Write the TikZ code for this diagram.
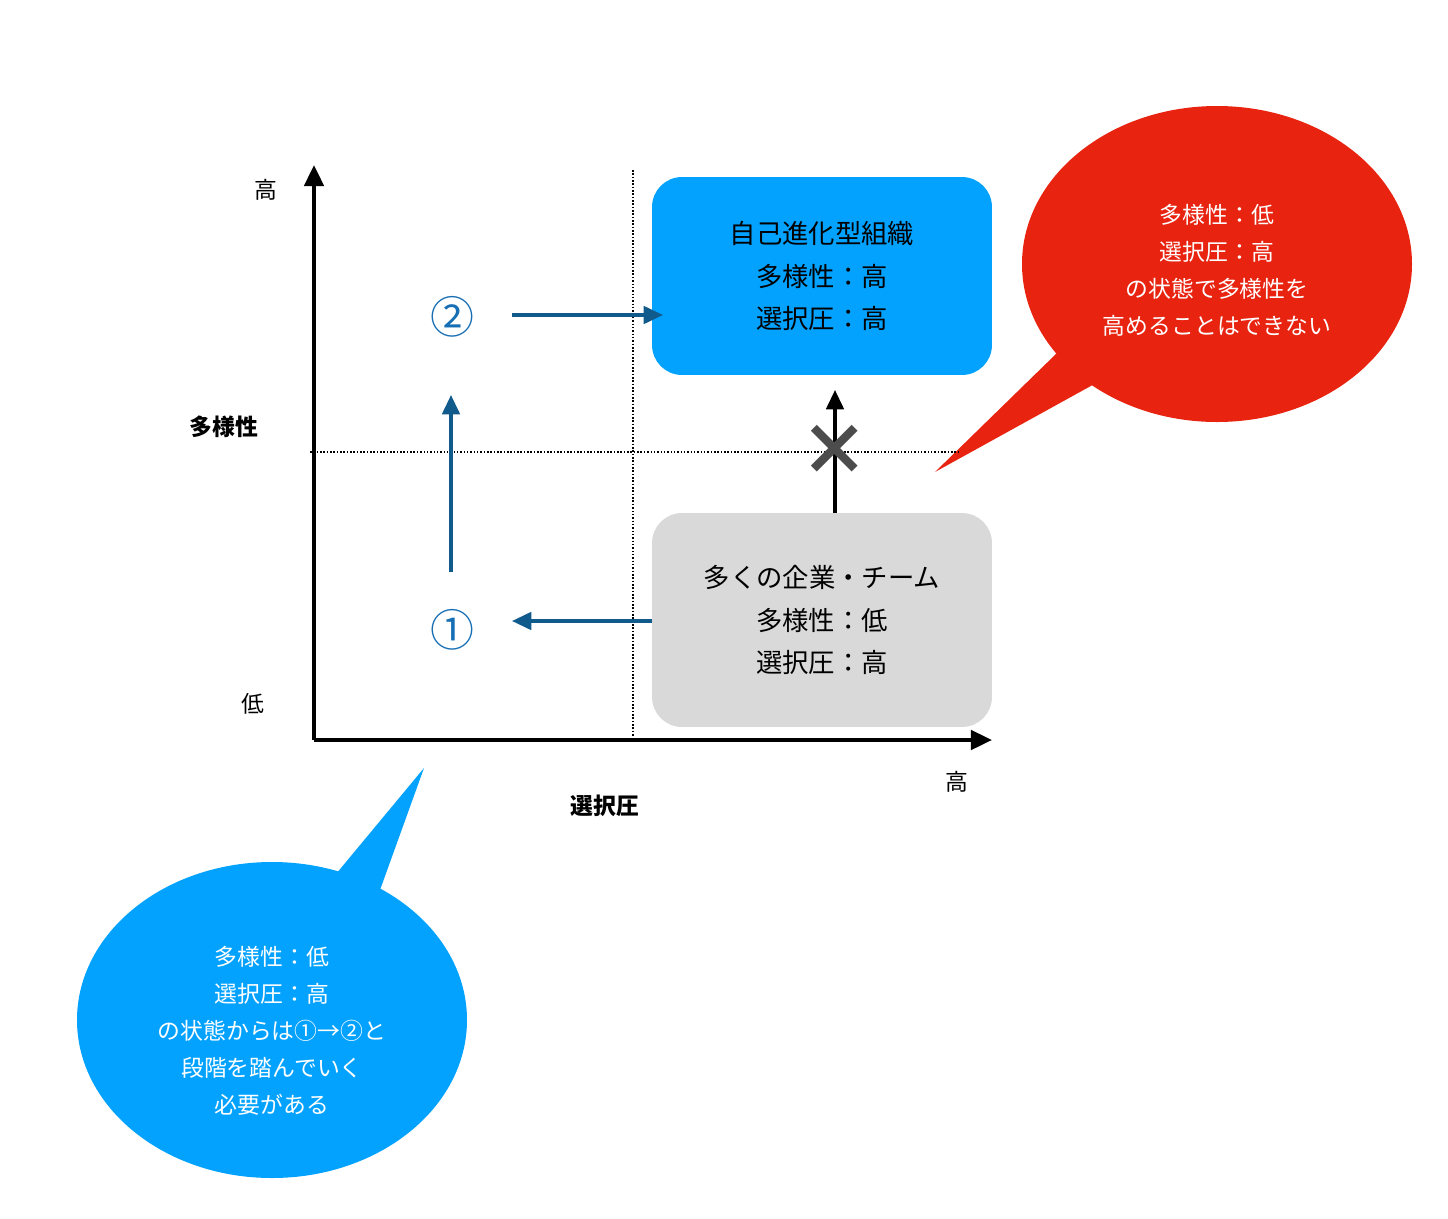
\documentclass[tikz,border=0pt]{standalone}
\usepackage{fontspec}
\setmainfont{Noto Sans CJK JP}
\usetikzlibrary{arrows.meta, positioning, shapes.geometric}
\definecolor{skyblue}{RGB}{3,162,255}
\definecolor{darkblue}{RGB}{16,90,140}
\definecolor{numblue}{RGB}{22,110,180}
\definecolor{callred}{RGB}{232,35,16}
\definecolor{boxgrey}{RGB}{217,217,217}

\begin{document}
\begin{tikzpicture}[
x=0.02cm, y=-0.02cm,
box/.style={rounded corners=0.6cm,
minimum width=6.8cm,
align=center,
font=\fontsize{15}{24}\selectfont},
axis/.style={-{Triangle[length=12pt,width=11pt]}, line width=2.2pt},
arrow/.style={-{Triangle[length=11pt,width=10pt]}, line width=1.8pt, darkblue},
lbl/.style={font=\fontsize{13}{16}\selectfont},
bubble/.style={align=center, text=white, font=\fontsize{13}{21}\selectfont},
num/.style={numblue, font=\fontsize{25}{25}\selectfont}
]
\useasboundingbox (0,0) rectangle (1448,1218);

% callouts
\fill[callred] (1217,264) ellipse [x radius=195, y radius=158];
\fill[callred] (1058,352) -- (935,472) -- (1098,382) -- cycle;
\node[bubble] (redtext) at (1217,270) {多様性：低\\選択圧：高\\の状態で多様性を\\高めることはできない};

\fill[skyblue] (272,1020) ellipse [x radius=195, y radius=158];
\fill[skyblue] (336,874) -- (424,768) -- (380,890) -- cycle;
\node[bubble] (bluetext) at (272,1031) {多様性：低\\選択圧：高\\の状態からは①→②と\\段階を踏んでいく\\必要がある};

% grid lines
\draw[densely dotted, line width=0.9pt] (633,170) -- (633,740);
\draw[densely dotted, line width=0.9pt] (310,452) -- (960,452);

% axes
\coordinate (origin) at (314,740);
\coordinate (ytop) at (314,165);
\coordinate (xend) at (992,740);
\draw[axis] (origin) -- (ytop);
\draw[axis] (origin) -- (xend);

\node[lbl] (yhigh) at (266,190) {高};
\node[lbl] (ylow) at (253,704) {低};
\node[lbl, font=\bfseries\fontsize{13}{16}\selectfont] (ylabel) at (224,427) {多様性};
\node[lbl, font=\bfseries\fontsize{13}{16}\selectfont] (xlabel) at (605,806) {選択圧};
\node[lbl] (xhigh) at (957,782) {高};

% boxes
\node[box, fill=skyblue, minimum height=3.96cm] (selfevo) at (822,276) {自己進化型組織\\多様性：高\\選択圧：高};
\node[box, fill=boxgrey, minimum height=4.28cm] (many) at (822,620) {多くの企業・チーム\\多様性：低\\選択圧：高};

\node[num] (one) at (452,630) {①};
\node[num] (two) at (452,317) {②};

% steps
\coordinate (oneR) at (512,621);
\coordinate (oneT) at (451,572);
\coordinate (twoB) at (451,395);
\coordinate (twoR) at (512,315);
\coordinate (boxL) at (663,315);
\draw[arrow] (many.west |- oneR) -- (oneR);
\draw[arrow] (oneT) -- (twoB);
\draw[arrow] (twoR) -- (boxL);

\coordinate (blocked) at (835,390);
\draw[-{Triangle[length=11pt,width=10pt]}, line width=1.8pt] (many.north -| blocked) -- (blocked);
\node[text=black!70, font=\fontsize{40}{40}\selectfont\bfseries] (cross) at (835,450) {×};

\end{tikzpicture}
\end{document}
